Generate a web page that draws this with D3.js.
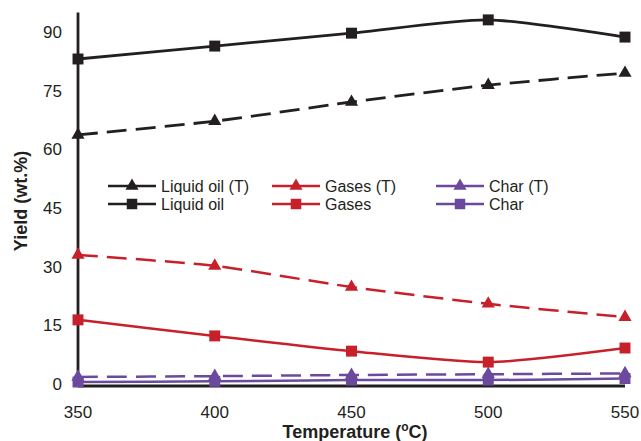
<!DOCTYPE html>
<html>
<head>
<meta charset="utf-8">
<script src="https://cdn.jsdelivr.net/npm/d3@7"></script>
<style>
body { margin: 0; background: #fff; }
text { font-family: "Liberation Sans", Arial, sans-serif; }
</style>
</head>
<body>
<svg id="chart" width="641" height="441"></svg>
<script>
var temps = [350, 400, 450, 500, 550]
var yTicks = [0, 15, 30, 45, 60, 75, 90]

var liquidOilT = [63.7, 67.2, 72.1, 76.4, 79.5]
var liquidOil = [83.1, 86.4, 89.7, 93.1, 88.7]
var gasesT = [33.0, 30.2, 24.8, 20.5, 17.1]
var gases = [16.4, 12.3, 8.4, 5.6, 9.2]
var charT = [1.8, 2.0, 2.3, 2.5, 2.7]
var charY = [0.5, 0.7, 1.0, 1.0, 1.4]

var cBlack = "#231f20"
var cRed = "#c7202b"
var cPurple = "#6b4a9e"

var series = [
	{"name": "Liquid oil (T)", "values": liquidOilT, "color": cBlack, "theo": true},
	{"name": "Gases (T)", "values": gasesT, "color": cRed, "theo": true},
	{"name": "Char (T)", "values": charT, "color": cPurple, "theo": true},
	{"name": "Liquid oil", "values": liquidOil, "color": cBlack, "theo": false},
	{"name": "Gases", "values": gases, "color": cRed, "theo": false},
	{"name": "Char", "values": charY, "color": cPurple, "theo": false}
]

var svg = d3.select("#chart")
var x = d3.scaleLinear().domain([350, 550]).range([78, 625])
var y = d3.scaleLinear().domain([0, 90]).range([384, 32])

// axes
svg.append("line")
	.attr("x1", x(350)).attr("x2", x(350))
	.attr("y1", y(95)).attr("y2", 386)
	.attr("stroke", cBlack).attr("stroke-width", 2.8)
svg.append("line")
	.attr("x1", x(350)).attr("x2", x(550))
	.attr("y1", 386).attr("y2", 386)
	.attr("stroke", cBlack).attr("stroke-width", 2.8)

svg.selectAll(".ytick")
	.data(yTicks)
	.enter()
	.append("text")
	.attr("x", 62)
	.attr("y", function(d) {return y(d) + 6;})
	.attr("text-anchor", "end")
	.attr("font-size", "17px")
	.attr("fill", cBlack)
	.text(function(d) {return d;})

svg.selectAll(".xtick")
	.data(temps)
	.enter()
	.append("text")
	.attr("x", function(d) {return x(d);})
	.attr("y", 418)
	.attr("text-anchor", "middle")
	.attr("font-size", "17px")
	.attr("fill", cBlack)
	.text(function(d) {return d;})

svg.append("text")
	.attr("transform", "translate(27,201) rotate(-90)")
	.attr("text-anchor", "middle")
	.attr("font-size", "18px")
	.attr("font-weight", "bold")
	.attr("fill", cBlack)
	.text("Yield (wt.%)")

var xt = svg.append("text")
	.attr("x", 355)
	.attr("y", 438)
	.attr("text-anchor", "middle")
	.attr("font-size", "18px")
	.attr("font-weight", "bold")
	.attr("fill", cBlack)
xt.append("tspan").text("Temperature (")
xt.append("tspan").attr("font-size", "12px").attr("dy", -7).text("o")
xt.append("tspan").attr("dy", 7).text("C)")

// lines
var line = d3.line()
	.x(function(d, i) {return x(temps[i]);})
	.y(function(d) {return y(d);})
	.curve(d3.curveCardinal.tension(0.3))

var tri = d3.symbol().type(d3.symbolTriangle).size(75)

series.forEach(function(s) {
	svg.append("path")
		.attr("d", line(s.values))
		.attr("fill", "none")
		.attr("stroke", s.color)
		.attr("stroke-width", s.color == cBlack ? 2.8 : 2.5)
		.attr("stroke-dasharray", s.theo ? "20,9" : null)

	svg.selectAll(null)
		.data(s.values)
		.enter()
		.append("path")
		.attr("transform", function(d, i) {return "translate(" + x(temps[i]) + "," + y(d) + ")";})
		.attr("d", s.theo ? tri() : d3.symbol().type(d3.symbolSquare).size(120)())
		.attr("fill", s.color)
})

// legend
var legX = [108, 272, 436]
var legY = [186, 204]
series.forEach(function(s, i) {
	var lx = legX[i % 3]
	var ly = legY[s.theo ? 0 : 1]
	svg.append("line")
		.attr("x1", lx).attr("x2", lx + 48)
		.attr("y1", ly).attr("y2", ly)
		.attr("stroke", s.color).attr("stroke-width", 2.5)
	svg.append("path")
		.attr("transform", "translate(" + (lx + 24) + "," + ly + ")")
		.attr("d", s.theo ? tri() : d3.symbol().type(d3.symbolSquare).size(110)())
		.attr("fill", s.color)
	svg.append("text")
		.attr("x", lx + 53)
		.attr("y", ly + 6)
		.attr("font-size", "16px")
		.attr("fill", cBlack)
		.text(s.name)
})
</script>
</body>
</html>
